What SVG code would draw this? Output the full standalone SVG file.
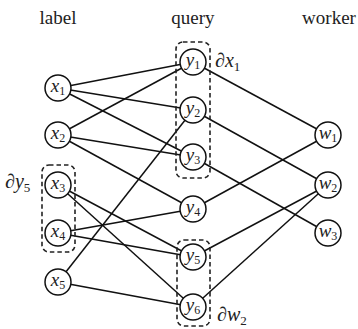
<svg xmlns="http://www.w3.org/2000/svg" width="358" height="329" viewBox="0 0 358 329">
<style>
.e{stroke:#111;stroke-width:1.5;fill:none}
.n circle{fill:#fff;stroke:#111;stroke-width:1.5}
text{font-family:'Liberation Serif','Times New Roman','DejaVu Serif',serif;fill:#222}
.t{font-size:19px;text-anchor:middle}
.i{font-style:italic}
.s{font-size:12px}
.h{font-size:19px;text-anchor:middle}
.b{fill:none;stroke:#222;stroke-width:1.6;stroke-dasharray:4.5,3}
.m{font-size:20px}
</style>
<rect width="358" height="329" fill="#fff"/>
<g id="headers">
<text class="h" x="58" y="24">label</text>
<text class="h" x="193" y="24">query</text>
<text class="h" x="329" y="24">worker</text>
</g>
<g id="connectors">
<line class="e" x1="58" y1="88" x2="193" y2="62"/>
<line class="e" x1="58" y1="88" x2="193" y2="110"/>
<line class="e" x1="58" y1="88" x2="193" y2="157"/>
<line class="e" x1="58" y1="135" x2="193" y2="62"/>
<line class="e" x1="58" y1="135" x2="193" y2="157"/>
<line class="e" x1="58" y1="135" x2="193" y2="209"/>
<line class="e" x1="58" y1="185" x2="193" y2="257"/>
<line class="e" x1="58" y1="185" x2="193" y2="307"/>
<line class="e" x1="58" y1="233" x2="193" y2="209"/>
<line class="e" x1="58" y1="233" x2="193" y2="257"/>
<line class="e" x1="58" y1="282" x2="193" y2="110"/>
<line class="e" x1="58" y1="282" x2="193" y2="307"/>
<line class="e" x1="193" y1="62" x2="328" y2="135"/>
<line class="e" x1="193" y1="110" x2="328" y2="185"/>
<line class="e" x1="193" y1="157" x2="328" y2="233"/>
<line class="e" x1="193" y1="209" x2="328" y2="135"/>
<line class="e" x1="193" y1="257" x2="328" y2="185"/>
<line class="e" x1="193" y1="307" x2="328" y2="185"/>
</g>
<g id="groups">
<rect class="b" x="176" y="42" width="34" height="136" rx="7"/>
<text class="m" x="215" y="67">∂<tspan class="i">x</tspan><tspan font-size="13" dy="4">1</tspan></text>
<rect class="b" x="42" y="165" width="33" height="87" rx="7"/>
<text class="m" x="5" y="188">∂<tspan class="i">y</tspan><tspan font-size="13" dy="4">5</tspan></text>
<rect class="b" x="177" y="240" width="33" height="86" rx="7"/>
<text class="m" x="217" y="321">∂<tspan class="i">w</tspan><tspan font-size="13" dy="4">2</tspan></text>
</g>
<g id="x1" class="n"><circle cx="58" cy="88" r="13"/><text class="t" x="58" y="92"><tspan class="i">x</tspan><tspan class="s" dy="3">1</tspan></text></g>
<g id="x2" class="n"><circle cx="58" cy="135" r="13"/><text class="t" x="58" y="139"><tspan class="i">x</tspan><tspan class="s" dy="3">2</tspan></text></g>
<g id="x3" class="n"><circle cx="58" cy="185" r="13"/><text class="t" x="58" y="189"><tspan class="i">x</tspan><tspan class="s" dy="3">3</tspan></text></g>
<g id="x4" class="n"><circle cx="58" cy="233" r="13"/><text class="t" x="58" y="237"><tspan class="i">x</tspan><tspan class="s" dy="3">4</tspan></text></g>
<g id="x5" class="n"><circle cx="58" cy="282" r="13"/><text class="t" x="58" y="286"><tspan class="i">x</tspan><tspan class="s" dy="3">5</tspan></text></g>
<g id="y1" class="n"><circle cx="193" cy="62" r="13"/><text class="t" x="193" y="66"><tspan class="i">y</tspan><tspan class="s" dy="3">1</tspan></text></g>
<g id="y2" class="n"><circle cx="193" cy="110" r="13"/><text class="t" x="193" y="114"><tspan class="i">y</tspan><tspan class="s" dy="3">2</tspan></text></g>
<g id="y3" class="n"><circle cx="193" cy="157" r="13"/><text class="t" x="193" y="161"><tspan class="i">y</tspan><tspan class="s" dy="3">3</tspan></text></g>
<g id="y4" class="n"><circle cx="193" cy="209" r="13"/><text class="t" x="193" y="213"><tspan class="i">y</tspan><tspan class="s" dy="3">4</tspan></text></g>
<g id="y5" class="n"><circle cx="193" cy="257" r="13"/><text class="t" x="193" y="261"><tspan class="i">y</tspan><tspan class="s" dy="3">5</tspan></text></g>
<g id="y6" class="n"><circle cx="193" cy="307" r="13"/><text class="t" x="193" y="311"><tspan class="i">y</tspan><tspan class="s" dy="3">6</tspan></text></g>
<g id="w1" class="n"><circle cx="328" cy="135" r="13"/><text class="t" x="328" y="139"><tspan class="i">w</tspan><tspan class="s" dy="3">1</tspan></text></g>
<g id="w2" class="n"><circle cx="328" cy="185" r="13"/><text class="t" x="328" y="189"><tspan class="i">w</tspan><tspan class="s" dy="3">2</tspan></text></g>
<g id="w3" class="n"><circle cx="328" cy="233" r="13"/><text class="t" x="328" y="237"><tspan class="i">w</tspan><tspan class="s" dy="3">3</tspan></text></g>
</svg>
